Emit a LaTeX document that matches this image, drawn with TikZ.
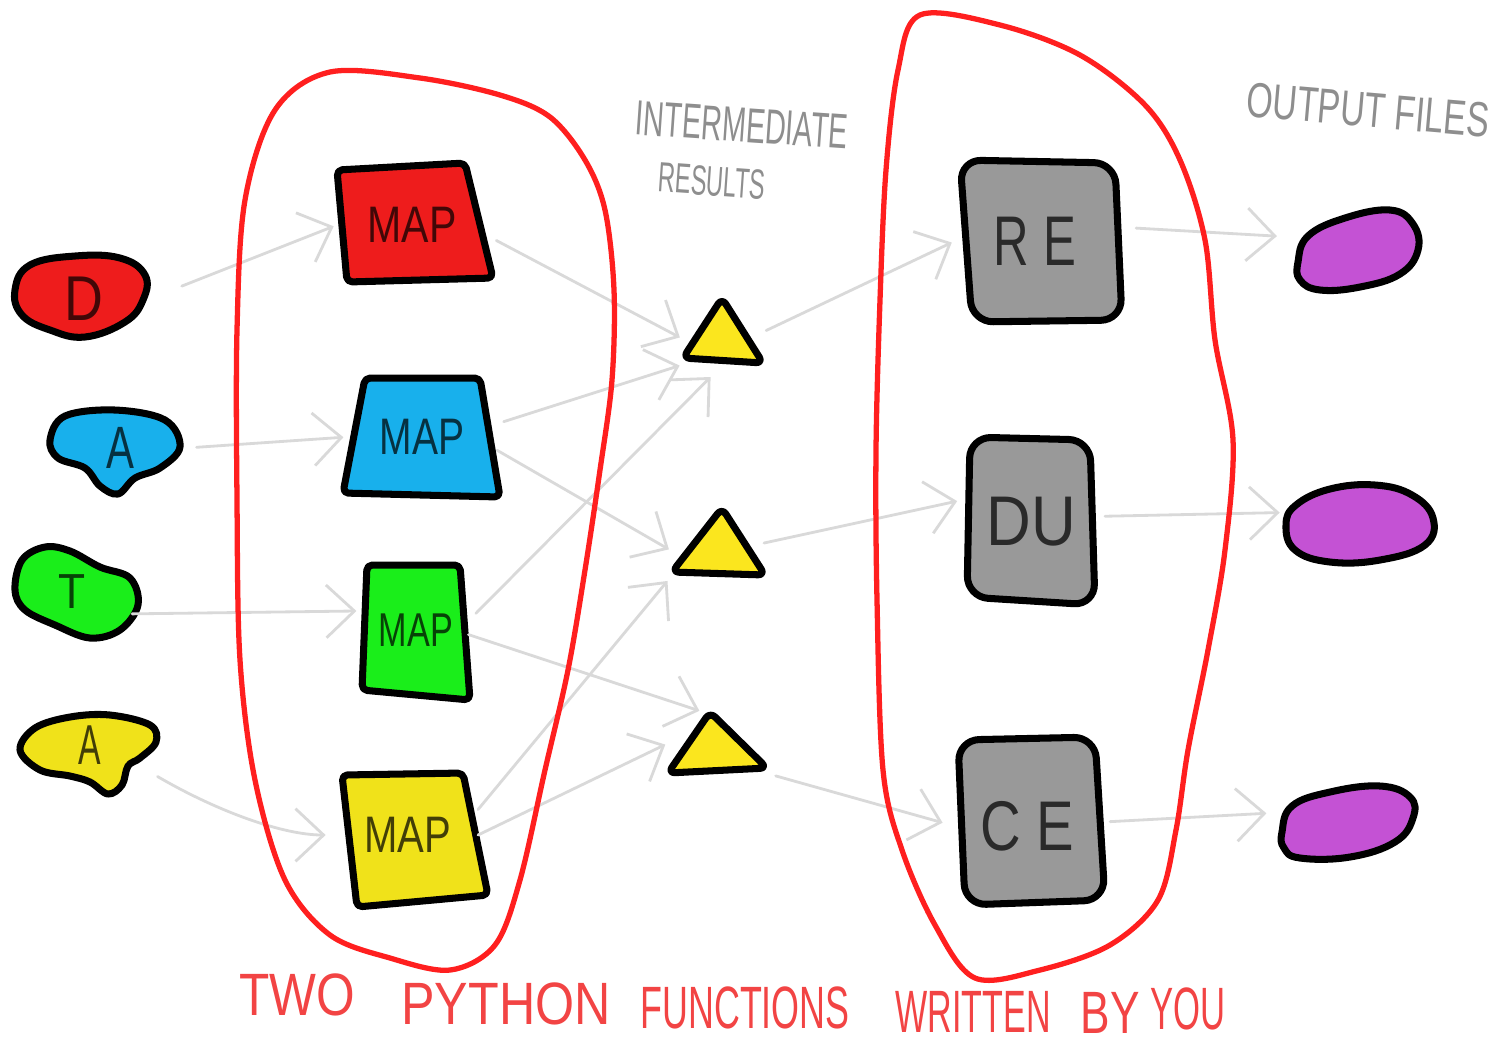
\documentclass[tikz,border=0pt]{standalone}
\usepackage{fontspec}
\setmainfont{Liberation Sans}
\usetikzlibrary{arrows.meta}

\definecolor{inRed}{HTML}{EE1C1C}
\definecolor{inBlue}{HTML}{18B0EC}
\definecolor{inGreen}{HTML}{1AEE1A}
\definecolor{inYellow}{HTML}{F0E21A}
\definecolor{midYellow}{HTML}{FBE61E}
\definecolor{boxGray}{HTML}{999999}
\definecolor{outPurple}{HTML}{C452D4}
\definecolor{loopRed}{HTML}{FF1F1F}
\definecolor{noteRed}{HTML}{F24444}
\definecolor{linkGray}{HTML}{D9D9D9}
\definecolor{noteGray}{HTML}{8E8E8E}

\newcommand\squeeze[2]{\scalebox{#1}[1]{#2}}

\tikzset{
  shapeline/.style={draw=black, line width=2pt, line join=round},
  blob/.style={shapeline},
  quad/.style={shapeline, rounded corners=1.5pt},
  tri/.style={shapeline, rounded corners=2pt, fill=midYellow},
  grayblock/.style={shapeline, rounded corners=6pt, fill=boxGray},
  hub/.style={rectangle, inner sep=0pt, outer sep=0pt},
  ink/.style={hub, text=black, text opacity=0.72},
  link/.style={draw=linkGray, line width=0.8pt, line cap=round,
    -{Straight Barb[length=8pt, width=15pt, line width=0.8pt]}},
  group/.style={draw=loopRed, line width=1.5pt},
  note/.style={hub, text=noteGray},
  caption/.style={hub, text=noteRed, font=\fontsize{17}{19}\selectfont},
}

\begin{document}
\begin{tikzpicture}[x=0.01cm, y=-0.01cm]
\useasboundingbox (0,0) rectangle (1497,1044);

% ---- input data blobs ----
\draw[blob, fill=inRed] plot[smooth cycle, tension=0.7] coordinates
  {(15,290) (30,265) (75,256) (120,258) (145,275) (143,300) (125,322) (85,337) (50,330) (22,315)};
\draw[blob, fill=inBlue] plot[smooth cycle, tension=0.6] coordinates
  {(50,440) (65,416) (115,410) (165,420) (180,447) (160,468) (135,478) (118,494) (100,486) (85,468) (58,458)};
\draw[blob, fill=inGreen] plot[smooth cycle, tension=0.6] coordinates
  {(15,590) (22,560) (45,547) (70,551) (100,567) (130,578) (138,605) (120,630) (90,638) (55,625) (25,610)};
\draw[blob, fill=inYellow] plot[smooth cycle, tension=0.6] coordinates
  {(20,750) (35,728) (70,717) (110,715) (150,725) (156,742) (140,758) (128,766) (122,785) (108,794) (90,782) (70,776) (40,770)};

% ---- map blocks ----
\draw[quad, fill=inRed]    (337,170) -- (465,163) -- (493,278) -- (347,282) -- cycle;
\draw[quad, fill=inBlue]   (365,378) -- (480,378) -- (500,497) -- (343,493) -- cycle;
\draw[quad, fill=inGreen]  (367,565) -- (460,565) -- (470,700) -- (362,690) -- cycle;
\draw[quad, fill=inYellow] (342,775) -- (463,773) -- (488,895) -- (357,907) -- cycle;

% ---- intermediate results ----
\draw[tri] (722,298) -- (763,363) -- (683,358) -- cycle;
\draw[tri] (722,508) -- (765,575) -- (672,572) -- cycle;
\draw[tri] (710,712) -- (767,768) -- (668,773) -- cycle;

% ---- reduce blocks ----
\draw[grayblock] (960,160) -- (1115,163) -- (1122,320) -- (972,322) -- cycle;
\draw[grayblock] (970,437) -- (1090,440) -- (1095,605) -- (967,597) -- cycle;
\draw[grayblock] (958,740) -- (1095,737) -- (1105,900) -- (965,905) -- cycle;

% ---- output files ----
\draw[blob, fill=outPurple] plot[smooth cycle, tension=0.7] coordinates
  {(1298,262) (1308,236) (1345,218) (1390,210) (1413,224) (1418,250) (1400,274) (1360,287) (1320,290) (1300,280)};
\draw[blob, fill=outPurple] plot[smooth cycle, tension=0.7] coordinates
  {(1286,525) (1296,505) (1330,489) (1375,485) (1412,495) (1433,518) (1425,545) (1380,560) (1330,562) (1295,550)};
\draw[blob, fill=outPurple] plot[smooth cycle, tension=0.7] coordinates
  {(1282,832) (1292,806) (1330,792) (1380,786) (1410,797) (1413,818) (1395,842) (1350,857) (1300,858) (1284,848)};

% ---- named nodes carrying the labels ----
\node[ink, minimum width=1.30cm, minimum height=0.80cm, font=\fontsize{18}{20}\selectfont] (D) at (84,299) {\squeeze{0.85}{D}};
\node[ink, minimum width=1.32cm, minimum height=0.75cm, font=\fontsize{17}{20}\selectfont] (A1) at (120,448) {\squeeze{0.7}{A}};
\node[ink, minimum width=1.20cm, minimum height=0.90cm, font=\fontsize{14}{16}\selectfont] (T) at (72,592) {\squeeze{0.9}{T}};
\node[ink, minimum width=1.35cm, minimum height=0.75cm, font=\fontsize{16}{18}\selectfont] (A2) at (90,745) {\squeeze{0.6}{A}};

\node[ink, minimum width=1.50cm, minimum height=1.15cm, font=\fontsize{14.6}{16}\selectfont] (m1) at (412,225) {\squeeze{0.8}{MAP}};
\node[ink, minimum width=1.50cm, minimum height=1.18cm, font=\fontsize{14.6}{16}\selectfont] (m2) at (422,437) {\squeeze{0.76}{MAP}};
\node[ink, minimum width=1.05cm, minimum height=1.35cm, font=\fontsize{13.5}{16}\selectfont] (m3) at (416,630) {\squeeze{0.72}{MAP}};
\node[ink, minimum width=1.40cm, minimum height=1.30cm, font=\fontsize{14.6}{16}\selectfont] (m4) at (408,835) {\squeeze{0.78}{MAP}};

\node[hub, minimum width=0.80cm, minimum height=0.65cm] (t1) at (723,332) {};
\node[hub, minimum width=0.92cm, minimum height=0.65cm] (t2) at (718,543) {};
\node[hub, minimum width=0.97cm, minimum height=0.60cm] (t3) at (717,743) {};

\node[ink, minimum width=1.60cm, minimum height=1.63cm, font=\fontsize{20}{22}\selectfont] (re) at (1035,241) {\squeeze{0.7}{R E}};
\node[ink, minimum width=1.27cm, minimum height=1.68cm, font=\fontsize{20}{22}\selectfont] (du) at (1031,522) {\squeeze{0.88}{DU}};
\node[ink, minimum width=1.45cm, minimum height=1.68cm, font=\fontsize{20}{22}\selectfont] (ce) at (1027,826) {\squeeze{0.8}{C E}};

\node[hub, minimum width=1.23cm, minimum height=0.83cm] (p1) at (1356,248) {};
\node[hub, minimum width=1.50cm, minimum height=0.82cm] (p2) at (1360,523) {};
\node[hub, minimum width=1.35cm, minimum height=0.73cm] (p3) at (1348,822) {};

% ---- data flow ----
\draw[link, shorten <=10pt, shorten >=1pt] (D.east) -- (m1.west);
\draw[link, shorten <=3pt, shorten >=1pt] (A1.east) -- (m2.west);
\draw[link, shorten >=2pt] (T.-20) -- (m3.160);
\draw[link, shorten >=3.5pt] (A2.-25) .. controls +(60,35) and +(-55,0) .. (m4.west);

\draw[link, shorten <=3pt, shorten >=1pt] (m1.-8) -- (t1.190);
\draw[link, shorten <=2pt, shorten >=1pt] (m2.10) -- (t1.south west);
\draw[link, shorten >=1pt] (m2.-10) -- (t2.190);
\draw[link, shorten <=3pt, shorten >=5pt] (m3.10) -- (t1.south);
\draw[link, shorten >=2pt] (m3.-5) -- (t3.110);
\draw[link, shorten >=2pt] (m4.20) -- (t2.south west);
\draw[link, shorten >=1pt] (m4.east) -- (t3.west);

\draw[link, shorten <=1pt, shorten >=1pt] (t1.east) -- (re.west);
\draw[link, shorten >=3pt] (t2.east) -- (du.160);
\draw[link, shorten <=3pt, shorten >=3.5pt] (t3.south east) -- (ce.west);

\draw[link, shorten <=6pt, shorten >=5pt] (re.10) -- (p1.170);
\draw[link, shorten <=3pt, shorten >=1.5pt] (du.5) -- (p2.172);
\draw[link, shorten <=3pt, shorten >=4pt] (ce.3) -- (p3.172);

% ---- the two user-written functions ----
\draw[group] plot[smooth cycle, tension=0.55] coordinates
  {(330,72) (420,78) (500,95) (550,117) (585,160) (605,210) (614,290) (612,380) (600,470)
   (585,570) (568,670) (545,770) (520,880) (495,945) (450,970) (390,958) (330,935)
   (285,880) (255,780) (240,660) (237,500) (237,330) (245,200) (275,110)};
\draw[group] plot[smooth cycle, tension=0.55] coordinates
  {(920,15) (1000,25) (1080,55) (1145,105) (1180,160) (1205,240) (1215,340) (1233,440)
   (1225,550) (1208,650) (1188,750) (1176,830) (1158,900) (1110,945) (1040,970) (975,978)
   (935,925) (902,850) (883,770) (877,600) (876,450) (880,300) (886,170) (898,70)};

% ---- annotations ----
\node[note, rotate=-4, font=\fontsize{14}{16}\selectfont] (inter) at (742,125) {\squeeze{0.585}{INTERMEDIATE}};
\node[note, rotate=-4, font=\fontsize{12}{14}\selectfont] (res) at (712,181) {\squeeze{0.56}{RESULTS}};
\node[note, rotate=-5, font=\fontsize{14}{16}\selectfont] (outf) at (1368,110) {\squeeze{0.69}{OUTPUT FILES}};

\node[caption] (w1) at (297,995)  {\squeeze{0.83}{TWO}};
\node[caption] (w2) at (506,1004) {\squeeze{0.84}{PYTHON}};
\node[caption] (w3) at (745,1008) {\squeeze{0.6}{FUNCTIONS}};
\node[caption] (w4) at (973,1012) {\squeeze{0.57}{WRITTEN}};
\node[caption] (w5) at (1110,1013) {\squeeze{0.74}{BY}};
\node[caption] (w6) at (1188,1009) {\squeeze{0.58}{YOU}};
\end{tikzpicture}
\end{document}
